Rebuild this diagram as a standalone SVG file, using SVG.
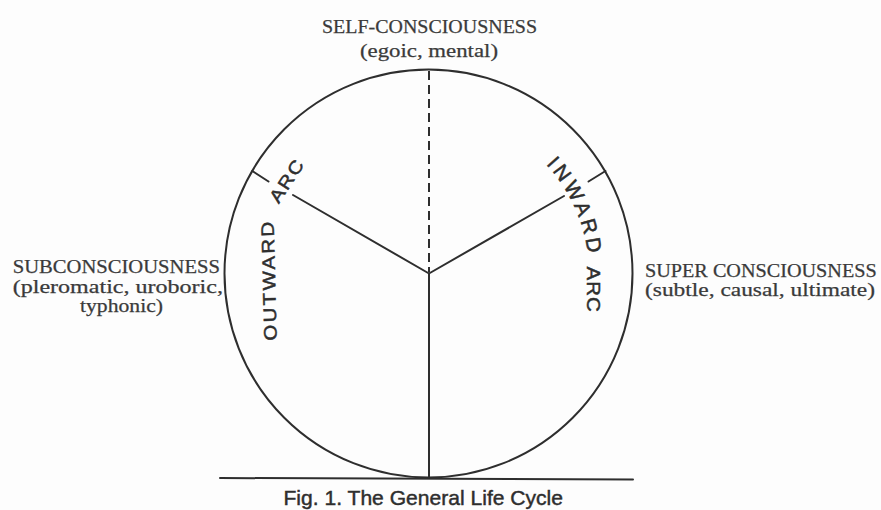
<svg xmlns="http://www.w3.org/2000/svg" width="881" height="510" viewBox="0 0 881 510">
  <style>
    .ln { fill: none; stroke: #2e2e2e; stroke-width: 2; stroke-linecap: round; }
    .dash { fill: none; stroke: #2e2e2e; stroke-width: 2; stroke-dasharray: 9 5; }
    .serif { font-family: "Liberation Serif", "Times New Roman", serif; font-size: 19px; fill: #3a3a3a; stroke: #3a3a3a; stroke-width: 0.25; }
    .arc { font-family: "Liberation Sans", Arial, sans-serif; font-size: 20.5px; fill: #2e2e2e; stroke: #2e2e2e; stroke-width: 0.55; }
    .cap { font-family: "Liberation Sans", Arial, sans-serif; font-size: 21px; fill: #2e2e2e; stroke: #2e2e2e; stroke-width: 0.45; }
  </style>
  <defs>
    <path id="pInward" d="M 429 113.5 A 160 160 0 0 1 429 433.5"/>
  </defs>
  <rect x="0" y="0" width="881" height="510" fill="#fdfdfd"/>

  <g id="cycle">
    <circle cx="428.5" cy="273.5" r="204" class="ln"/>
  </g>

  <g id="connectors">
    <line x1="429" y1="71" x2="429" y2="272" class="dash"/>
    <line x1="429" y1="273.5" x2="429" y2="477" class="ln"/>
    <line x1="429" y1="273.5" x2="293" y2="195" class="ln"/>
    <line x1="429" y1="273.5" x2="564" y2="196" class="ln"/>
    <line x1="252.3" y1="171" x2="268.5" y2="181.5" class="ln"/>
    <line x1="605.5" y1="171" x2="588.5" y2="181.5" class="ln"/>
    <line x1="220" y1="478" x2="633" y2="479.5" class="ln"/>
  </g>

  <g id="outward-arc">
    <text class="arc" text-anchor="middle" letter-spacing="2.3" transform="translate(275.2 279.9) rotate(-91.5) scale(1 0.88)">OUTWARD</text>
    <text class="arc" text-anchor="middle" letter-spacing="1.95" transform="translate(292.2 183.7) rotate(-57) scale(1 0.88)">ARC</text>
  </g>

  <g id="inward-arc">
    <text class="arc" text-anchor="middle" letter-spacing="3.5"><textPath href="#pInward" startOffset="182.7">INWARD</textPath></text>
    <text class="arc" text-anchor="middle" letter-spacing="1" transform="translate(586.8 289.6) rotate(90) scale(1 0.88)">ARC</text>
  </g>

  <g id="self-consciousness">
    <text class="serif" x="322" y="33.3" textLength="215" lengthAdjust="spacingAndGlyphs">SELF-CONSCIOUSNESS</text>
    <text class="serif" x="360" y="56.5" textLength="138" lengthAdjust="spacingAndGlyphs">(egoic, mental)</text>
  </g>

  <g id="subconsciousness">
    <text class="serif" x="12.7" y="273.3" textLength="207.3" lengthAdjust="spacingAndGlyphs">SUBCONSCIOUSNESS</text>
    <text class="serif" x="12.7" y="293.3" textLength="210.3" lengthAdjust="spacingAndGlyphs">(pleromatic, uroboric,</text>
    <text class="serif" x="80" y="311.5" textLength="83" lengthAdjust="spacingAndGlyphs">typhonic)</text>
  </g>

  <g id="super-consciousness">
    <text class="serif" x="645" y="276.7" textLength="231.7" lengthAdjust="spacingAndGlyphs">SUPER CONSCIOUSNESS</text>
    <text class="serif" x="645" y="296" textLength="230" lengthAdjust="spacingAndGlyphs">(subtle, causal, ultimate)</text>
  </g>

  <g id="caption">
    <text class="cap" x="283.5" y="505" textLength="279.5" lengthAdjust="spacingAndGlyphs">Fig. 1. The General Life Cycle</text>
  </g>
</svg>
